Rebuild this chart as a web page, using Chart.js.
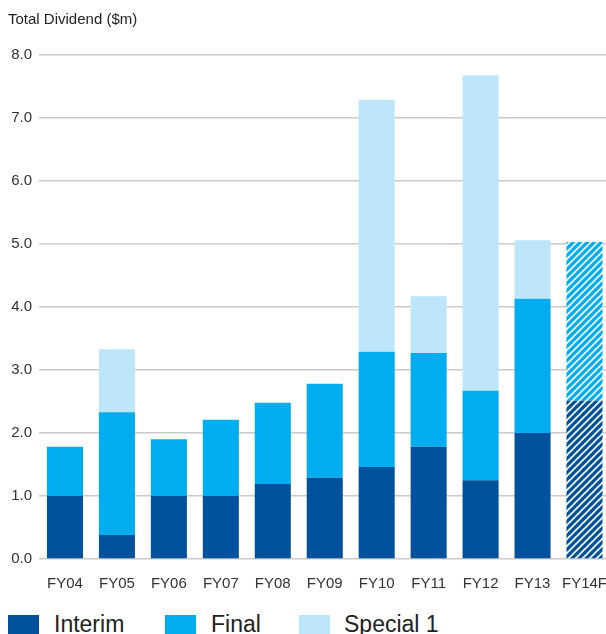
<!DOCTYPE html>
<html>
<head>
<meta charset="utf-8">
<script src="https://cdn.jsdelivr.net/npm/chart.js@4/dist/chart.umd.min.js"></script>
<style>
  html, body { margin: 0; padding: 0; background: #fff; overflow: hidden; }
  #wrap { position: relative; width: 606px; height: 634px; overflow: hidden; }
  #divChart { position: absolute; left: 0; top: 0; }
  .key { position: absolute; top: 615px; width: 31px; height: 19px; }
  .keyText { position: absolute; top: 613px; font: 23px "Liberation Sans", Arial, sans-serif; line-height: 23px; color: #222; white-space: nowrap; }
</style>
</head>
<body>
<div id="wrap">
  <canvas id="divChart" width="615" height="595"></canvas>
  <div class="key" style="left:8px;background:#00529c"></div>
  <div class="keyText" style="left:54px">Interim</div>
  <div class="key" style="left:165px;background:#00aeef"></div>
  <div class="keyText" style="left:211px">Final</div>
  <div class="key" style="left:299px;background:#bde6fa"></div>
  <div class="keyText" style="left:344px">Special 1</div>
</div>
<script>
const years = ["FY04", "FY05", "FY06", "FY07", "FY08", "FY09", "FY10", "FY11", "FY12", "FY13", "FY14F"];
const interim = [1.0, 0.38, 1.0, 1.0, 1.19, 1.29, 1.46, 1.78, 1.25, 2.0, 2.51];
const finalDiv = [0.78, 1.95, 0.9, 1.21, 1.29, 1.49, 1.83, 1.49, 1.42, 2.13, 2.52];
const special = [0, 1.0, 0, 0, 0, 0, 4.0, 0.9, 5.01, 0.93, 0];
const yTicks = [0, 1, 2, 3, 4, 5, 6, 7, 8];

const colInterim = "#00529c";
const colFinal = "#00aeef";
const colSpecial = "#bde6fa";

// forecast year gets white diagonal stripes over the series colour
function hatch(color) {
  const c = document.createElement("canvas");
  c.width = 7;
  c.height = 7;
  const g = c.getContext("2d");
  g.fillStyle = color;
  g.fillRect(0, 0, 7, 7);
  g.strokeStyle = "#fff";
  g.lineWidth = 1.6;
  g.beginPath();
  g.moveTo(-1, 8); g.lineTo(8, -1);
  g.moveTo(-1, 1); g.lineTo(1, -1);
  g.moveTo(6, 8); g.lineTo(8, 6);
  g.stroke();
  return g.createPattern(c, "repeat");
}

const lastIdx = years.length - 1;
function fills(color) {
  return years.map((y, i) => (i === lastIdx ? hatch(color) : color));
}

const font = "'Liberation Sans', Arial, sans-serif";

new Chart(document.getElementById("divChart"), {
  type: "bar",
  data: {
    labels: years,
    datasets: [
      { label: "Interim", data: interim, backgroundColor: fills(colInterim) },
      { label: "Final", data: finalDiv, backgroundColor: fills(colFinal) },
      { label: "Special 1", data: special, backgroundColor: colSpecial },
    ],
  },
  options: {
    responsive: false,
    animation: false,
    layout: { padding: { left: 8, right: 0, top: 0, bottom: 0 } },
    datasets: { bar: { categoryPercentage: 1, barPercentage: 0.694, borderWidth: 0 } },
    plugins: {
      legend: { display: false },
      tooltip: { enabled: false },
      title: {
        display: true,
        text: "Total Dividend ($m)",
        align: "start",
        color: "#222",
        font: { family: font, size: 15, weight: "normal" },
        padding: { top: 11, bottom: 26 },
      },
    },
    scales: {
      x: {
        stacked: true,
        grid: { display: false },
        border: { display: false },
        ticks: { color: "#333", font: { family: font, size: 15 }, padding: 8, maxRotation: 0, autoSkip: false },
        afterFit: (s) => { s.height = 36; },
      },
      y: {
        stacked: true,
        min: 0,
        max: 8,
        afterBuildTicks: (s) => { s.ticks = yTicks.map((v) => ({ value: v })); },
        grid: { color: "#cacaca", lineWidth: 1.5, drawTicks: false },
        border: { display: false },
        ticks: {
          color: "#333",
          font: { family: font, size: 15 },
          padding: 7,
          callback: (v) => v.toFixed(1),
        },
        afterFit: (s) => { s.width = 31; },
      },
    },
  },
});
</script>
</body>
</html>
